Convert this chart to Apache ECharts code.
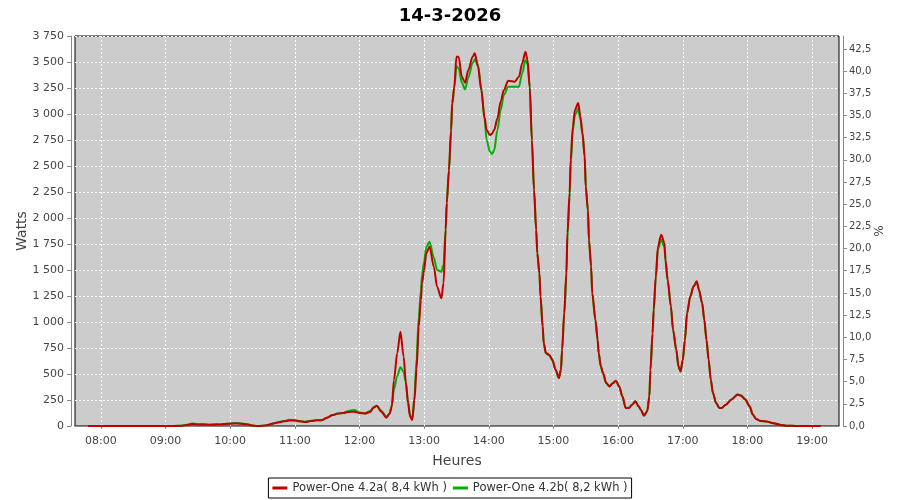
<!DOCTYPE html>
<html>
<head>
<meta charset="utf-8">
<script src="https://cdn.jsdelivr.net/npm/echarts@6/dist/echarts.min.js"></script>
<style>html,body{margin:0;padding:0;background:#fff}#c{width:900px;height:500px}</style>
</head>
<body>
<div id="c"></div>
<script>
const chartTitle = '14-3-2026';
const seriesNames = ['Power-One 4.2a( 8,4 kWh )', 'Power-One 4.2b( 8,2 kWh )'];
const times = ['07:48','08:00','08:30','09:00','09:15','09:20','09:25','09:30','09:35','09:40','09:45','09:50','09:55','10:00','10:05','10:10','10:15','10:20','10:25','10:30','10:35','10:40','10:45','10:50','10:55','11:00','11:05','11:10','11:15','11:20','11:25','11:30','11:35','11:40','11:45','11:50','11:55','12:00','12:05','12:10','12:13','12:16','12:20','12:25','12:28','12:30','12:32','12:35','12:38','12:41','12:43','12:45','12:47','12:49','12:51','12:53','12:55','12:57','12:58','13:00','13:02','13:05','13:09','13:12','13:16','13:18','13:20','13:21','13:23','13:25','13:26','13:28','13:30','13:32','13:35','13:38','13:41','13:45','13:47','13:50','13:53','13:56','13:58','14:01','14:03','14:05','14:08','14:11','14:14','14:18','14:24','14:28','14:31','14:34','14:36','14:38','14:40','14:42','14:44','14:45','14:47','14:48','14:50','14:51','14:53','14:56','14:59','15:02','15:05','15:07','15:08','15:10','15:12','15:13','15:15','15:16','15:18','15:20','15:23','15:25','15:27','15:29','15:30','15:32','15:33','15:35','15:36','15:39','15:41','15:42','15:44','15:46','15:49','15:52','15:55','15:58','16:01','16:04','16:07','16:10','16:13','16:16','16:19','16:21','16:24','16:27','16:29','16:30','16:32','16:33','16:35','16:37','16:40','16:43','16:44','16:46','16:49','16:51','16:54','16:56','16:58','17:00','17:02','17:04','17:07','17:10','17:13','17:15','17:18','17:20','17:22','17:24','17:26','17:28','17:31','17:34','17:36','17:40','17:45','17:51','17:54','17:58','18:02','18:05','18:08','18:12','18:19','18:23','18:30','18:36','18:45','19:08'];
const wattsA = [0,0,0,0,2,10,20,15,15,12,12,15,20,22,25,22,18,5,0,2,10,25,35,45,52,52,45,38,48,55,55,80,105,120,125,135,138,125,120,135,175,195,140,80,120,186,442,699,907,666,426,221,90,58,250,550,955,1211,1372,1500,1660,1724,1532,1339,1228,1372,1885,2141,2461,2846,3103,3262,3551,3551,3358,3301,3423,3551,3583,3455,3231,2974,2846,2798,2810,2846,2958,3118,3231,3320,3311,3358,3487,3599,3519,3262,2753,2272,1888,1663,1471,1247,958,798,702,686,638,542,462,542,734,1087,1471,1856,2240,2561,2881,3042,3106,2977,2817,2593,2304,2080,1792,1535,1279,1022,830,702,574,510,413,381,410,436,381,285,173,173,205,237,190,157,99,141,285,542,894,1119,1439,1727,1840,1760,1599,1407,1151,926,734,574,526,638,830,1087,1247,1343,1391,1311,1183,1022,830,638,446,317,221,173,173,205,253,301,292,253,189,109,67,48,42,29,13,3,0,0];
const wattsB = [0,0,0,0,2,12,25,18,16,12,18,15,20,22,30,24,18,5,0,2,10,25,37,48,60,55,45,42,50,55,56,80,105,120,125,145,154,130,122,145,180,195,150,90,120,200,350,480,564,520,420,250,100,70,280,650,1050,1300,1450,1580,1720,1772,1620,1500,1484,1550,1900,2150,2450,2830,3080,3250,3461,3440,3300,3237,3350,3490,3526,3470,3260,2950,2750,2640,2615,2650,2846,3038,3183,3262,3262,3262,3391,3519,3480,3250,2740,2260,1880,1660,1460,1240,950,790,700,680,630,540,460,540,720,1060,1440,1820,2200,2520,2840,2990,3050,2950,2800,2580,2290,2060,1780,1520,1270,1010,820,700,570,505,410,380,410,436,380,285,175,175,205,237,190,157,100,140,280,530,880,1100,1420,1700,1790,1720,1580,1400,1150,920,730,570,520,630,820,1080,1240,1340,1385,1310,1180,1020,830,638,446,317,221,173,173,205,255,305,295,260,195,115,70,50,42,30,13,3,0,0];
const hourTicks = ['08:00','09:00','10:00','11:00','12:00','13:00','14:00','15:00','16:00','17:00','18:00','19:00'];
const pctTicks = [0,2.5,5,7.5,10,12.5,15,17.5,20,22.5,25,27.5,30,32.5,35,37.5,40,42.5];

function toMin(s){const p=s.split(':');return (+p[0])*60+(+p[1]);}
function fmtHM(v){const h=Math.floor(v/60),m=Math.round(v-h*60);return (h<10?'0':'')+h+':'+(m<10?'0':'')+m;}
const dataA = times.map((t,i)=>[toMin(t), wattsA[i]]);
const dataB = times.map((t,i)=>[toMin(t), wattsB[i]]);

const FONT = 'DejaVu Sans';
const chart = echarts.init(document.getElementById('c'), null, {renderer:'canvas'});
chart.setOption({
  animation:false,
  backgroundColor:'#ffffff',
  title:{text:chartTitle,left:'center',top:2,textStyle:{fontFamily:FONT,fontWeight:'bold',fontSize:18,color:'#000'}},
  legend:{
    data:seriesNames, bottom:2, left:'center',
    borderColor:'#000', borderWidth:1, padding:[4,4,4,4], itemGap:6,
    itemWidth:15, itemHeight:3, icon:'rect',
    textStyle:{fontFamily:FONT,fontSize:11.5,color:'#333'}
  },
  grid:{left:75,right:61,top:36,bottom:74,show:true,backgroundColor:'#cccccc',borderColor:'#000',borderWidth:1,outerBoundsMode:'none'},
  xAxis:{
    type:'value', min:toMin('07:36'), max:toMin('19:25'),
    offset:4,
    name:'Heures', nameLocation:'middle', nameGap:24, nameMoveOverlap:false,
    nameTextStyle:{fontFamily:FONT,fontSize:14,color:'#444'},
    axisLine:{show:true,lineStyle:{color:'#888',width:1}},
    axisTick:{show:true,length:3,lineStyle:{color:'#888'},customValues:hourTicks.map(toMin)},
    axisLabel:{fontFamily:FONT,fontSize:11,color:'#444',margin:6,formatter:fmtHM,customValues:hourTicks.map(toMin)},
    splitLine:{show:true,lineStyle:{color:'#ffffff',type:[2,2],width:1}}
  },
  yAxis:[{
    type:'value', min:0, max:3750, interval:250, position:'left', offset:4,
    name:'Watts', nameLocation:'middle', nameGap:42, nameMoveOverlap:false,
    nameTextStyle:{fontFamily:FONT,fontSize:14,color:'#444'},
    axisLine:{show:true,lineStyle:{color:'#888',width:1}},
    axisTick:{show:true,length:4,lineStyle:{color:'#888'}},
    axisLabel:{fontFamily:FONT,fontSize:11,color:'#444',margin:7,formatter:v=>String(v).replace(/\B(?=(\d{3})+(?!\d))/g,' ')},
    splitLine:{show:true,lineStyle:{color:'#ffffff',type:[2,2],width:1}}
  },{
    type:'value', min:0, max:43.96, position:'right', offset:4,
    name:'%', nameLocation:'middle', nameGap:31, nameMoveOverlap:false,
    nameTextStyle:{fontFamily:FONT,fontSize:12,color:'#444'},
    axisLine:{show:true,lineStyle:{color:'#888',width:1}},
    axisTick:{show:true,length:4,lineStyle:{color:'#888'},customValues:pctTicks},
    axisLabel:{fontFamily:FONT,fontSize:10,color:'#444',margin:6,formatter:v=>v.toFixed(1).replace('.',','),customValues:pctTicks},
    splitLine:{show:false}
  }],
  series:[
    {name:seriesNames[1],type:'line',data:dataB,showSymbol:false,smooth:0.3,smoothMonotone:'x',z:2,lineStyle:{color:'#00b000',width:2},itemStyle:{color:'#00b000'}},
    {name:seriesNames[0],type:'line',data:dataA,showSymbol:false,smooth:0.3,smoothMonotone:'x',z:3,lineStyle:{color:'#c00000',width:2},itemStyle:{color:'#c00000'}}
  ]
});
</script>
</body>
</html>
